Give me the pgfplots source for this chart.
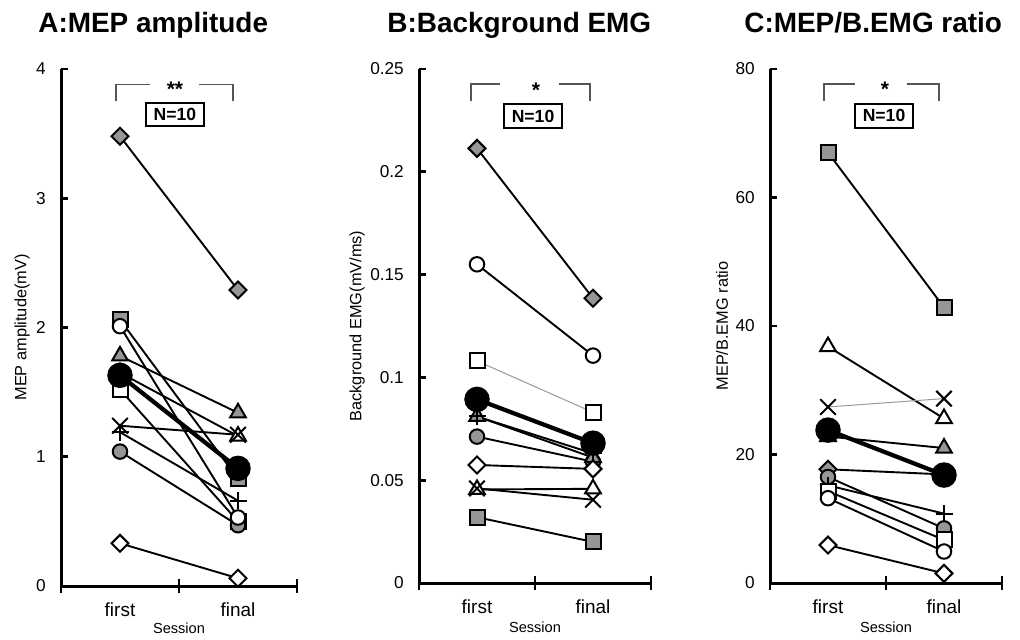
\documentclass[border=0pt]{standalone}
\usepackage{fontspec}
\setmainfont{Liberation Sans}
\usepackage{pgfplots}
\pgfplotsset{compat=1.18}
\definecolor{mg}{RGB}{150,150,150}
\definecolor{brk}{RGB}{85,85,85}
\newcommand{\tickfont}{\fontsize{9.8}{11}\selectfont}
\newcommand{\labfont}{\fontsize{9.3}{11}\selectfont}
\pgfplotsset{
  panel/.style={
    scale only axis,
    anchor=south west,
    axis x line*=bottom, axis y line*=left,
    axis line style={line width=0.6mm},
    xmin=0.5, xmax=2.5,
    xtick={0.5,1.5,2.5}, xticklabels={,,},
    tick align=center,
    major tick length=2.8mm,
    tick style={line width=0.55mm, black},
    extra x ticks={1,2}, extra x tick labels={first,final},
    extra x tick style={major tick length=0pt,
      tick label style={font=\fontsize{10.8}{12}\selectfont, yshift=-2.2mm}},
    ytick=\empty,
    extra y tick style={major tick length=1.4mm, tick align=inside,
      tick label style={font=\tickfont, xshift=-1.8mm}},
    ylabel style={font=\labfont, anchor=center},
    xlabel={Session},
    xlabel style={font=\fontsize{8.3}{10}\selectfont, anchor=center},
    clip=false,
  },
  subj/.style n args={4}{line width=0.38mm, black, mark=#1, mark size=#2,
    mark options={solid, line width=0.4mm, fill=#3, draw=black, #4}},
  gdia/.style={subj={square*}{1.2mm}{mg}{rotate=45}},
  wdia/.style={subj={square*}{1.2mm}{white}{rotate=45}},
  gsq/.style={subj={square*}{1.5mm}{mg}{}},
  wsq/.style={subj={square*}{1.5mm}{white}{}},
  gcir/.style={subj={*}{1.45mm}{mg}{}},
  wcir/.style={subj={*}{1.45mm}{white}{}},
  gtri/.style={subj={triangle*}{1.8mm}{mg}{}},
  wtri/.style={subj={triangle*}{1.8mm}{white}{}},
  xm/.style={subj={x}{2.2mm}{white}{}},
  plm/.style={subj={+}{1.7mm}{white}{}},
  meanp/.style={line width=0.85mm, black, mark=*, mark size=2.4mm,
    mark options={solid, line width=0.3mm, fill=black, draw=black}},
  thinl/.style={draw=black!40, line width=0.2mm},
}
\begin{document}
\begin{tikzpicture}
\useasboundingbox (0,0) rectangle (204mm,127.8mm);
\node[anchor=base west, font=\fontsize{15.9}{18}\bfseries\selectfont, inner sep=0pt] at (7.6mm,121.2mm) {A:MEP amplitude};
\node[anchor=base west, font=\fontsize{15.9}{18}\bfseries\selectfont, inner sep=0pt] at (77.4mm,121.2mm) {B:Background EMG};
\node[anchor=base west, font=\fontsize{15.9}{18}\bfseries\selectfont, inner sep=0pt] at (148.8mm,121.2mm) {C:MEP/B.EMG ratio};

% ---------- A ----------
\begin{axis}[panel, at={(12.2mm,10.6mm)}, width=47.2mm, height=103.4mm,
  ymin=0, ymax=4,
  extra y ticks={0,1,2,3,4}, extra y tick labels={0,1,2,3,4},
  ylabel={MEP amplitude(mV)},
  ylabel style={at={(axis description cs:-0.165,0.5)}},
  xlabel style={at={(axis description cs:0.5,-0.081)}}]
\addplot[gdia] coordinates {(1,3.48) (2,2.29)};
\addplot[gsq]  coordinates {(1,2.06) (2,0.83)};
\addplot[wsq]  coordinates {(1,1.52) (2,0.50)};
\addplot[gcir] coordinates {(1,1.04) (2,0.47)};
\addplot[wtri] coordinates {(1,1.65) (2,1.16)};
\addplot[gtri] coordinates {(1,1.78) (2,1.34)};
\addplot[xm]   coordinates {(1,1.24) (2,1.17)};
\addplot[plm]  coordinates {(1,1.19) (2,0.66)};
\addplot[wcir] coordinates {(1,2.01) (2,0.53)};
\addplot[wdia] coordinates {(1,0.33) (2,0.06)};
\addplot[meanp] coordinates {(1,1.63) (2,0.91)};
\draw[brk, line width=0.35mm] (axis cs:0.966,3.75) -- (axis cs:0.966,3.88) -- (axis cs:1.254,3.88);
\draw[brk, line width=0.35mm] (axis cs:1.669,3.88) -- (axis cs:1.958,3.88) -- (axis cs:1.958,3.75);
\node[font=\fontsize{12}{12}\bfseries\selectfont, inner sep=0pt] at (axis cs:1.466,3.845) {**};
\node[draw, line width=0.4mm, minimum width=11.6mm, minimum height=4.6mm, inner sep=0pt,
  font=\fontsize{10}{12}\bfseries\selectfont] at (axis cs:1.466,3.65) {N=10};
\end{axis}

% ---------- B ----------
\begin{axis}[panel, at={(83.8mm,11.2mm)}, width=46.4mm, height=102.8mm,
  ymin=0, ymax=0.25,
  extra y ticks={0,0.05,0.1,0.15,0.2,0.25}, extra y tick labels={0,0.05,0.1,0.15,0.2,0.25},
  ylabel={Background EMG(mV/ms)},
  ylabel style={at={(axis description cs:-0.267,0.5)}},
  xlabel style={at={(axis description cs:0.5,-0.087)}}]
\addplot[gdia] coordinates {(1,0.2114) (2,0.1385)};
\addplot[wcir] coordinates {(1,0.155) (2,0.1106)};
\addplot[wsq, thinl] coordinates {(1,0.108) (2,0.083)};
\addplot[gcir] coordinates {(1,0.0712) (2,0.059)};
\addplot[gtri] coordinates {(1,0.081) (2,0.061)};
\addplot[plm]  coordinates {(1,0.081) (2,0.063)};
\addplot[wdia] coordinates {(1,0.0574) (2,0.0555)};
\addplot[wtri] coordinates {(1,0.0455) (2,0.0458)};
\addplot[xm]   coordinates {(1,0.046) (2,0.0405)};
\addplot[gsq]  coordinates {(1,0.032) (2,0.020)};
\addplot[meanp] coordinates {(1,0.0893) (2,0.068)};
\draw[brk, line width=0.35mm] (axis cs:0.95,0.2344) -- (axis cs:0.95,0.2427) -- (axis cs:1.198,0.2427);
\draw[brk, line width=0.35mm] (axis cs:1.707,0.2427) -- (axis cs:1.975,0.2427) -- (axis cs:1.975,0.2344);
\node[font=\fontsize{12}{12}\bfseries\selectfont, inner sep=0pt] at (axis cs:1.509,0.2395) {*};
\node[draw, line width=0.4mm, minimum width=11.6mm, minimum height=4.8mm, inner sep=0pt,
  font=\fontsize{10}{12}\bfseries\selectfont] at (axis cs:1.483,0.2271) {N=10};
\end{axis}

% ---------- C ----------
\begin{axis}[panel, at={(154mm,11.2mm)}, width=46.4mm, height=102.8mm,
  ymin=0, ymax=80,
  extra y ticks={0,20,40,60,80}, extra y tick labels={0,20,40,60,80},
  ylabel={MEP/B.EMG ratio},
  ylabel style={at={(axis description cs:-0.207,0.5)}},
  xlabel style={at={(axis description cs:0.5,-0.087)}}]
\addplot[gsq]  coordinates {(1,67.0) (2,42.9)};
\addplot[wtri] coordinates {(1,36.8) (2,25.6)};
\addplot[xm, thinl] coordinates {(1,27.4) (2,28.7)};
\addplot[gtri] coordinates {(1,22.8) (2,21.0)};
\addplot[gdia] coordinates {(1,17.7) (2,16.9)};
\addplot[gcir] coordinates {(1,16.5) (2,8.5)};
\addplot[plm]  coordinates {(1,15.2) (2,10.8)};
\addplot[wsq]  coordinates {(1,14.3) (2,6.7)};
\addplot[wcir] coordinates {(1,13.2) (2,4.9)};
\addplot[wdia] coordinates {(1,5.9) (2,1.5)};
\addplot[meanp] coordinates {(1,23.8) (2,16.8)};
\draw[brk, line width=0.35mm] (axis cs:0.966,75.02) -- (axis cs:0.966,77.66) -- (axis cs:1.233,77.66);
\draw[brk, line width=0.35mm] (axis cs:1.681,77.66) -- (axis cs:1.957,77.66) -- (axis cs:1.957,75.02);
\node[font=\fontsize{12}{12}\bfseries\selectfont, inner sep=0pt] at (axis cs:1.491,76.9) {*};
\node[draw, line width=0.4mm, minimum width=11.6mm, minimum height=4.8mm, inner sep=0pt,
  font=\fontsize{10}{12}\bfseries\selectfont] at (axis cs:1.483,72.76) {N=10};
\end{axis}
\end{tikzpicture}
\end{document}
